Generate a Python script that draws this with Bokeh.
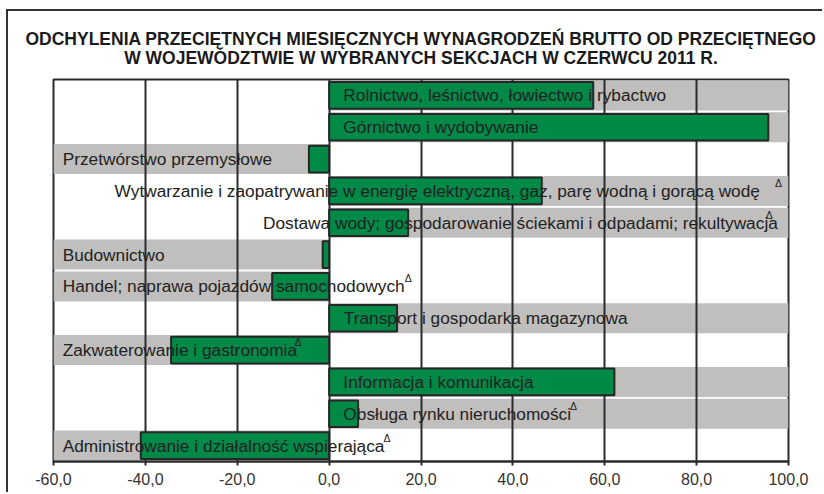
from bokeh.plotting import figure
from bokeh.models import (FactorRange, Range1d, FixedTicker, Title, ColumnDataSource,
                          InlineStyleSheet, LinearAxis)
from bokeh.core.properties import value
from bokeh.embed import file_html
from bokeh.resources import INLINE

# ---- data ----
categories = [
    "Rolnictwo, leśnictwo, łowiectwo i rybactwo",
    "Górnictwo i wydobywanie",
    "Przetwórstwo przemysłowe",
    "Wytwarzanie i zaopatrywanie w energię elektryczną, gaz, parę wodną i gorącą wodę",
    "Dostawa wody; gospodarowanie ściekami i odpadami; rekultywacja",
    "Budownictwo",
    "Handel; naprawa pojazdów samochodowych",
    "Transport i gospodarka magazynowa",
    "Zakwaterowanie i gastronomia",
    "Informacja i komunikacja",
    "Obsługa rynku nieruchomości",
    "Administrowanie i działalność wspierająca",
]
values = [57.5, 95.6, -4.4, 46.3, 17.2, -1.4, -12.4, 14.8, -34.4, 62.1, 6.3, -41.0]
label_x = [3.1, 3.1, -58.0, -46.7, -14.4, -58.0, -58.0, 3.2, -58.0, 3.1, 3.1, -58.0]
delta_cats = [categories[3], categories[4], categories[6], categories[8], categories[10], categories[11]]
delta_x = [97.8, 95.8, 17.2, -6.8, 53.2, 12.6]
tick_values = [-60, -40, -20, 0, 20, 40, 60, 80, 100]
tick_labels = ["-60,0", "-40,0", "-20,0", "0,0", "20,0", "40,0", "60,0", "80,0", "100,0"]
title_lines = [
    "ODCHYLENIA PRZECIĘTNYCH MIESIĘCZNYCH WYNAGRODZEŃ BRUTTO OD PRZECIĘTNEGO",
    "W WOJEWÓDZTWIE W WYBRANYCH SEKCJACH W CZERWCU 2011 R.",
]

XMIN, XMAX = tick_values[0], tick_values[-1]
band_left = [XMIN if v < 0 else 0 for v in values]
band_right = [0 if v < 0 else XMAX for v in values]

src = ColumnDataSource(dict(cat=categories, val=values, lx=label_x, bl=band_left, br=band_right))

DARK = "#2b2b2b"
FONT = value("Liberation Sans")

p = figure(width=822, height=492,
           y_range=FactorRange(factors=categories[::-1]),
           x_range=Range1d(XMIN, XMAX),
           output_backend="svg", toolbar_location=None,
           min_border_left=53, min_border_right=34, min_border_top=79, min_border_bottom=31)
p.background_fill_color = "white"
p.border_fill_color = "white"
p.outline_line_color = DARK
p.outline_line_width = 2
# outer chart-area frame (its right and bottom edges fall outside the picture)
p.stylesheets = [InlineStyleSheet(css="""
:host { overflow: hidden; }
:host::after { content: ""; position: absolute; left: 6px; top: 9px; right: -20px; bottom: -20px;
  border: 2px solid #333333; pointer-events: none; z-index: 10; }
""")]

# grey bands (behind grid)
p.hbar(y="cat", left="bl", right="br", height=0.94, fill_color="#c0bfbe",
       line_color=None, level="image", source=src)
# green bars
p.hbar(y="cat", left=0, right="val", height=0.84, fill_color="#008947",
       line_color="#262626", line_width=2, source=src)
# category labels
p.text(x="lx", y="cat", text="cat", source=src, text_font=FONT,
       text_font_size=value("17.3px"), text_color="#222222",
       text_align="left", text_baseline="middle")
# delta marks
p.text(x=delta_x, y=delta_cats, text=["Δ"] * len(delta_x), text_font=FONT,
       text_font_size=value("10.5px"), text_color="#222222",
       text_align="center", text_baseline="middle", y_offset=-8)

p.yaxis.visible = False
p.ygrid.visible = False
p.xgrid.ticker = FixedTicker(ticks=tick_values)
p.xgrid.grid_line_color = DARK
p.xgrid.grid_line_width = 2

ax = p.xaxis[0]
ax.ticker = FixedTicker(ticks=tick_values)
ax.major_label_overrides = {t: l for t, l in zip(tick_values, tick_labels)}
ax.axis_line_color = DARK
ax.axis_line_width = 2
ax.major_tick_line_color = DARK
ax.major_tick_line_width = 2
ax.major_tick_out = 4
ax.major_tick_in = 0
ax.minor_tick_out = 0
ax.minor_tick_in = 0
ax.major_label_standoff = 7
ax.major_label_text_font = "Liberation Sans"
ax.major_label_text_font_size = "16px"
ax.major_label_text_color = "#333333"

# second title line: label of an otherwise empty axis above the frame
top_ax = LinearAxis(axis_label=title_lines[1], ticker=FixedTicker(ticks=[]),
                    axis_line_color=None, major_tick_line_color=None, minor_tick_line_color=None,
                    major_tick_out=0, major_tick_in=0, minor_tick_out=0, minor_tick_in=0,
                    major_label_standoff=0, major_label_text_font_size="0px",
                    axis_label_standoff=12, axis_label_text_font="Liberation Sans",
                    axis_label_text_font_style="bold", axis_label_text_font_size="17.5px",
                    axis_label_text_color="#1a1a1a")
p.add_layout(top_ax, "above")
# first title line
p.add_layout(Title(text=title_lines[0], align="center", text_font="Liberation Sans",
                   text_font_style="bold", text_font_size="17.5px",
                   text_color="#1a1a1a", standoff=-9), "above")

open("out.html", "w").write(file_html(p, INLINE))
